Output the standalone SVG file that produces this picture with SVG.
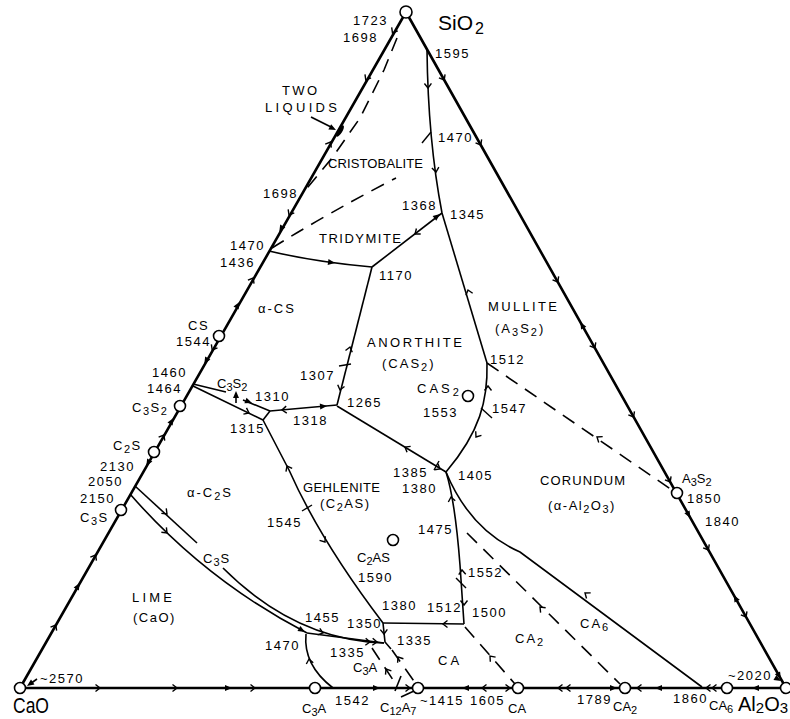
<svg xmlns="http://www.w3.org/2000/svg" width="790" height="719" viewBox="0 0 790 719">
<style>
text{font-family:"Liberation Sans",Arial,sans-serif;fill:#000}
.n{font-size:13px;letter-spacing:1.5px}
.r{font-size:13px}
.b{font-size:21px}
.e{fill:none;stroke:#000;stroke-width:2.6;stroke-linejoin:round}
.l{fill:none;stroke:#000;stroke-width:1.6}
.d{fill:none;stroke:#000;stroke-width:1.6;stroke-dasharray:14 9}
.c{fill:#fff;stroke:#000;stroke-width:1.6}
.t{fill:none;stroke:#000;stroke-width:1.4}
</style>
<defs>
<path id="ch" d="M-4.5,-3.5 L0,0 L-4.5,3.5" fill="none" stroke="#000" stroke-width="1.4"/>
<path id="ah" d="M-7,-3 L0,0 L-7,3 Z" fill="#000"/>
</defs>
<rect width="790" height="719" fill="#fff"/>

<g id="triangle">
<path class="e" d="M20,688 L406,12 L786,688 Z"/>
<g id="edge-arrows">
<use href="#ch" transform="translate(392.5,33) rotate(119.6)"/>
<use href="#ch" transform="translate(365.8,80) rotate(119.6)"/>
<use href="#ch" transform="translate(330.5,142) rotate(-60.4)"/>
<use href="#ch" transform="translate(289,215) rotate(119.6)"/>
<use href="#ah" transform="translate(279.3,232) rotate(119.6)"/>
<use href="#ch" transform="translate(253.2,278) rotate(-60.4)"/>
<use href="#ah" transform="translate(239.5,302) rotate(-60.4)"/>
<use href="#ch" transform="translate(212.2,350) rotate(119.6)"/>
<use href="#ah" transform="translate(204.3,364) rotate(119.6)"/>
<use href="#ah" transform="translate(173.5,418) rotate(-60.4)"/>
<use href="#ch" transform="translate(163.9,435) rotate(-60.4)"/>
<use href="#ah" transform="translate(146.3,466) rotate(119.6)"/>
<use href="#ch" transform="translate(95.6,555) rotate(-60.4)"/>
<use href="#ah" transform="translate(79.7,583) rotate(-60.4)"/>
<use href="#ch" transform="translate(55.8,625) rotate(-60.4)"/>
<use href="#ch" transform="translate(444.2,80) rotate(60.7)"/>
<use href="#ch" transform="translate(480.8,145) rotate(60.7)"/>
<use href="#ch" transform="translate(557.8,282) rotate(60.7)"/>
<use href="#ah" transform="translate(580.3,322) rotate(-119.3)"/>
<use href="#ch" transform="translate(594.9,348) rotate(60.7)"/>
<use href="#ch" transform="translate(633.6,417) rotate(60.7)"/>
<use href="#ch" transform="translate(670.2,482) rotate(60.7)"/>
<use href="#ah" transform="translate(690.4,518) rotate(60.7)"/>
<use href="#ch" transform="translate(708.4,550) rotate(60.7)"/>
<use href="#ah" transform="translate(733.7,595) rotate(-119.3)"/>
<use href="#ch" transform="translate(746.1,617) rotate(60.7)"/>
<use href="#ah" transform="translate(780.9,679) rotate(60.7)"/>
<use href="#ch" transform="translate(100,688)"/>
<use href="#ch" transform="translate(177,688)"/>
<use href="#ah" transform="translate(232,688)"/>
<use href="#ch" transform="translate(255,688)"/>
<use href="#ah" transform="translate(380,688)"/>
<use href="#ch" transform="translate(410,688)"/>
<use href="#ah" transform="translate(462,688) rotate(180)"/>
<use href="#ch" transform="translate(482,688) rotate(180)"/>
<use href="#ch" transform="translate(510,688)"/>
<use href="#ch" transform="translate(558,688) rotate(180)"/>
<use href="#ch" transform="translate(566,688) rotate(180)"/>
<use href="#ah" transform="translate(617,688)"/>
<use href="#ch" transform="translate(637,688) rotate(180)"/>
<use href="#ah" transform="translate(655,688) rotate(180)"/>
<use href="#ch" transform="translate(706,688) rotate(180)"/>
<use href="#ch" transform="translate(712,688) rotate(180)"/>
<use href="#ah" transform="translate(752,688) rotate(180)"/>
</g>
</g>

<g id="connectors">
<path class="l" d="M427,50 Q428,140 442,213"/>
<path class="l" d="M442,213 L487,363"/>
<path class="l" d="M487,363 C488,400 480,432 446,472"/>
<path class="d" d="M487,363 L672,490"/>
<path class="l" d="M442,213 L372,267"/>
<path class="l" d="M269,251 Q315,262 372,267"/>
<path class="d" d="M272,248 Q330,212 396,178"/>
<path class="d" d="M397,38 L384,70 L360,118 L332,158 L303,193"/>
<path class="l" d="M372,267 L337,405"/>
<path class="l" d="M337,405 L270,411"/>
<path class="l" d="M337,406 L446,472"/>
<path class="l" d="M193,384 L226,392 M243,400 L270,411"/>
<path class="l" d="M193,386 L263,420"/>
<path class="l" d="M270,411 L263,420"/>
<path class="l" d="M263,420 L289,470 Q320,540 383,623"/>
<path class="l" d="M383,623 L464,624"/>
<path class="l" d="M383,623 L385,642 L391,649"/>
<path class="l" d="M464,624 L460,565 Q455,500 446,472"/>
<path class="l" d="M446,472 Q470,530 520,552 L702,687"/>
<path class="d" d="M467,533 L620,684"/>
<path class="d" d="M465,627 L515,684"/>
<path class="l" d="M135,486 L197,543"/>
<path class="l" d="M223,568 Q295,640 384,643"/>
<path class="l" d="M130,494 Q205,580 307,633"/>
<path class="l" d="M307,633 L384,643"/>
<path class="l" d="M306,634 Q303,665 333,688"/>
<path class="d" d="M372,648 L397,686" stroke-dasharray="9 8"/>
<path class="d" d="M392,650 L416,684" stroke-dasharray="9 8"/>
<path class="l" d="M395,691 L401,676"/>
<path class="l" d="M401,697 L414,691"/>
<path class="l" d="M236,403 L236,394"/>
<use href="#ah" transform="translate(236,391) rotate(-90)"/>
<path class="l" d="M311,117 L333,128"/>
<use href="#ah" transform="translate(336,130) rotate(27)"/>
<path class="l" d="M37,679 L30,684"/>
<use href="#ah" transform="translate(27,686) rotate(145)"/>
<use href="#ah" transform="translate(781,681) rotate(30)"/>
<ellipse cx="340" cy="131" rx="6.5" ry="2.3" transform="rotate(-58 340 131)" fill="#000"/>
<g id="line-arrows">
<use href="#ch" transform="translate(428,88) rotate(89)"/>
<use href="#ch" transform="translate(436,172) rotate(82)"/>
<use href="#ch" transform="translate(468,290) rotate(-106.7)"/>
<use href="#ch" transform="translate(488,386) rotate(-90)"/>
<use href="#ch" transform="translate(476,437) rotate(125)"/>
<use href="#ch" transform="translate(597,437) rotate(-145.5)"/>
<use href="#ch" transform="translate(415,234) rotate(142.4)"/>
<use href="#ah" transform="translate(440,214) rotate(-37.6)"/>
<use href="#ah" transform="translate(335,263) rotate(8)"/>
<use href="#ch" transform="translate(350,347) rotate(-75.8)"/>
<use href="#ch" transform="translate(340,390) rotate(104.2)"/>
<use href="#ah" transform="translate(327,406) rotate(-5)"/>
<use href="#ch" transform="translate(282,410) rotate(175)"/>
<use href="#ch" transform="translate(405,447) rotate(-148.8)"/>
<use href="#ch" transform="translate(440,469) rotate(31)"/>
<use href="#ch" transform="translate(249,413) rotate(26)"/>
<use href="#ah" transform="translate(252,403) rotate(21)"/>
<use href="#ch" transform="translate(287,466) rotate(-117.5)"/>
<use href="#ch" transform="translate(325,542) rotate(55)"/>
<use href="#ch" transform="translate(443,624) rotate(180)"/>
<use href="#ch" transform="translate(384,634) rotate(88)"/>
<use href="#ch" transform="translate(451,497) rotate(-100)"/>
<use href="#ch" transform="translate(462,570) rotate(-93)"/>
<use href="#ch" transform="translate(464,605) rotate(90)"/>
<use href="#ch" transform="translate(585,593) rotate(-143.4)"/>
<use href="#ch" transform="translate(540,607) rotate(-134)"/>
<use href="#ch" transform="translate(490,656) rotate(-131)"/>
<use href="#ch" transform="translate(167,514) rotate(44.5)"/>
<use href="#ch" transform="translate(323,633) rotate(18)"/>
<use href="#ch" transform="translate(370,642) rotate(3)"/>
<use href="#ch" transform="translate(377,642) rotate(3)"/>
<use href="#ch" transform="translate(167,533) rotate(46)"/>
<use href="#ah" transform="translate(305,632) rotate(30)"/>
<use href="#ch" transform="translate(309,659) rotate(-100)"/>
<use href="#ch" transform="translate(386,669) rotate(-123)"/>
<use href="#ch" transform="translate(398,657) rotate(-124)"/>
</g>
<g id="ticks">
<path class="t" d="M422,143 L431,132"/>
<path class="t" d="M481,408 L492,418"/>
<path class="t" d="M339,366 L351,364"/>
<path class="t" d="M434,470 L439,461"/>
<path class="t" d="M302,511 L312,505"/>
<path class="t" d="M456,578 L466,588"/>
</g>
</g>

<g id="node-SiO2"><circle class="c" cx="406" cy="12" r="6"/><text class="b" x="438" y="30">SiO<tspan font-size="16" dx="2" dy="4">2</tspan></text></g>
<g id="node-CaO"><circle class="c" cx="20" cy="688" r="5.5"/><text x="13" y="713" font-size="22" textLength="36" lengthAdjust="spacingAndGlyphs">CaO</text></g>
<g id="node-Al2O3"><circle class="c" cx="786" cy="688" r="5.5"/><text x="738" y="711" font-size="20">Al<tspan font-size="15" dy="2">2</tspan><tspan dy="-2">O</tspan><tspan font-size="15" dy="2">3</tspan></text></g>
<g id="node-CS"><circle class="c" cx="219" cy="336" r="5.5"/><text class="n" x="188" y="330">CS</text></g>
<g id="node-C3S2"><circle class="c" cx="180" cy="406" r="5.5"/><text class="n" x="132" y="412">C<tspan font-size="11" dy="3">3</tspan><tspan dy="-3">S</tspan><tspan font-size="11" dy="3">2</tspan></text></g>
<g id="node-C2S"><circle class="c" cx="154" cy="452" r="5.5"/><text class="n" x="113" y="450">C<tspan font-size="11" dy="3">2</tspan><tspan dy="-3">S</tspan></text></g>
<g id="node-C3S"><circle class="c" cx="121" cy="510" r="5.5"/><text class="n" x="80" y="522">C<tspan font-size="11" dy="3">3</tspan><tspan dy="-3">S</tspan></text></g>
<g id="node-A3S2"><circle class="c" cx="677" cy="493" r="5.5"/><text class="r" x="682" y="483">A<tspan font-size="11" dy="3">3</tspan><tspan dy="-3">S</tspan><tspan font-size="11" dy="3">2</tspan></text></g>
<g id="node-C3A"><circle class="c" cx="315" cy="688" r="5.5"/><text class="r" x="302" y="713">C<tspan font-size="11" dy="3">3</tspan><tspan dy="-3">A</tspan></text></g>
<g id="node-C12A7"><circle class="c" cx="418" cy="688" r="5.5"/><text class="r" x="380" y="712">C<tspan font-size="11" dy="3">12</tspan><tspan dy="-3">A</tspan><tspan font-size="11" dy="3">7</tspan></text></g>
<g id="node-CA"><circle class="c" cx="518" cy="688" r="5.5"/><text class="r" x="508" y="713">CA</text></g>
<g id="node-CA2"><circle class="c" cx="625" cy="688" r="5.5"/><text class="r" x="613" y="711">CA<tspan font-size="11" dy="3">2</tspan></text></g>
<g id="node-CA6"><circle class="c" cx="727" cy="688" r="5.5"/><text class="r" x="709" y="710">CA<tspan font-size="11" dy="3">6</tspan></text></g>
<g id="node-CAS2"><circle class="c" cx="468" cy="396" r="5.5"/><text class="r" x="417" y="393" letter-spacing="3">CAS<tspan font-size="11" dy="3">2</tspan></text></g>
<g id="node-C2AS"><circle class="c" cx="393" cy="540" r="5.5"/><text class="r" x="357" y="562">C<tspan font-size="11" dy="3">2</tspan><tspan dy="-3">AS</tspan></text></g>

<g id="region-labels">
<text class="r" x="282" y="95" textLength="35">TWO</text>
<text class="r" x="265" y="112" textLength="72">LIQUIDS</text>
<text class="r" x="328" y="168" textLength="95">CRISTOBALITE</text>
<text class="r" x="319" y="243" textLength="82">TRIDYMITE</text>
<text class="r" x="258" y="313" font-size="14" letter-spacing="2">α-CS</text>
<text class="r" x="488" y="311" textLength="69">MULLITE</text>
<text class="r" x="495" y="333" letter-spacing="2">(A<tspan font-size="11" dy="3">3</tspan><tspan dy="-3">S</tspan><tspan font-size="11" dy="3">2</tspan><tspan dy="-3">)</tspan></text>
<text class="r" x="367" y="347" textLength="95">ANORTHITE</text>
<text class="r" x="382" y="368" letter-spacing="2">(CAS<tspan font-size="11" dy="3">2</tspan><tspan dy="-3">)</tspan></text>
<text class="r" x="217" y="388">C<tspan font-size="11" dy="3">3</tspan><tspan dy="-3">S</tspan><tspan font-size="11" dy="3">2</tspan></text>
<text class="r" x="540" y="485" textLength="85">CORUNDUM</text>
<text class="r" x="548" y="510" letter-spacing="1.5">(α-Al<tspan font-size="11" dy="3">2</tspan><tspan dy="-3">O</tspan><tspan font-size="11" dy="3">3</tspan><tspan dy="-3">)</tspan></text>
<text class="r" x="303" y="492" textLength="77">GEHLENITE</text>
<text class="r" x="320" y="508" letter-spacing="1.5">(C<tspan font-size="11" dy="3">2</tspan><tspan dy="-3">AS)</tspan></text>
<text class="r" x="187" y="497" font-size="14" letter-spacing="2">α-C<tspan font-size="11" dy="3">2</tspan><tspan dy="-3">S</tspan></text>
<text class="r" x="203" y="563" letter-spacing="1">C<tspan font-size="11" dy="3">3</tspan><tspan dy="-3">S</tspan></text>
<text class="r" x="132" y="602" textLength="40">LIME</text>
<text class="r" x="133" y="622" letter-spacing="1.5">(CaO)</text>
<text class="r" x="580" y="628" letter-spacing="2">CA<tspan font-size="11" dy="3">6</tspan></text>
<text class="r" x="515" y="643" letter-spacing="2">CA<tspan font-size="11" dy="3">2</tspan></text>
<text class="r" x="438" y="665" letter-spacing="3">CA</text>
<text class="r" x="353" y="672">C<tspan font-size="11" dy="3">3</tspan><tspan dy="-3">A</tspan></text>
</g>

<g id="temperature-labels" class="n">
<text x="353" y="25">1723</text>
<text x="343" y="42">1698</text>
<text x="435" y="58">1595</text>
<text x="438" y="142">1470</text>
<text x="263" y="198">1698</text>
<text x="402" y="210">1368</text>
<text x="450" y="219">1345</text>
<text x="230" y="250">1470</text>
<text x="220" y="267">1436</text>
<text x="379" y="280">1170</text>
<text x="176" y="346">1544</text>
<text x="490" y="364">1512</text>
<text x="152" y="377">1460</text>
<text x="147" y="393">1464</text>
<text x="300" y="380">1307</text>
<text x="255" y="401">1310</text>
<text x="423" y="417">1553</text>
<text x="347" y="407">1265</text>
<text x="492" y="413">1547</text>
<text x="293" y="425">1318</text>
<text x="230" y="433">1315</text>
<text x="100" y="471">2130</text>
<text x="88" y="486">2050</text>
<text x="80" y="503">2150</text>
<text x="393" y="477">1385</text>
<text x="458" y="480">1405</text>
<text x="402" y="493">1380</text>
<text x="687" y="503">1850</text>
<text x="705" y="526">1840</text>
<text x="267" y="527">1545</text>
<text x="418" y="534">1475</text>
<text x="358" y="582">1590</text>
<text x="468" y="577">1552</text>
<text x="382" y="610">1380</text>
<text x="427" y="612">1512</text>
<text x="472" y="617">1500</text>
<text x="305" y="622">1455</text>
<text x="347" y="628">1350</text>
<text x="397" y="645">1335</text>
<text x="265" y="650">1470</text>
<text x="330" y="657">1335</text>
<text x="728" y="680">~2020</text>
<text x="40" y="683">~2570</text>
<text x="335" y="705">1542</text>
<text x="420" y="705">~1415</text>
<text x="470" y="705">1605</text>
<text x="577" y="704">1789</text>
<text x="673" y="703">1860</text>
</g>
</svg>
